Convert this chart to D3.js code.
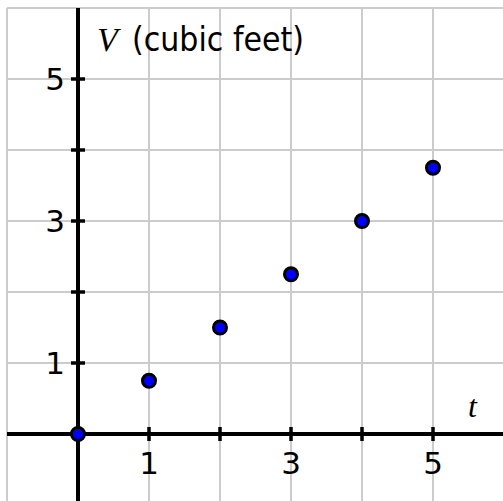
<!DOCTYPE html>
<html><head><meta charset="utf-8">
<script src="https://cdn.jsdelivr.net/npm/d3@7"></script>
<style>body{margin:0;background:#fff}svg{display:block}</style>
</head><body>
<script>
const tValues = [0, 1, 2, 3, 4, 5];
const vValues = [0, 0.75, 1.5, 2.25, 3, 3.75];
const xTickLabels = [1, 3, 5];
const yTickLabels = [1, 3, 5];
const gridX = [-1, 1, 2, 3, 4, 5, 6];
const gridY = [-1, 1, 2, 3, 4, 5, 6];
const ticks = [1, 2, 3, 4, 5];

const W = 503, H = 501;
const x = d3.scaleLinear().domain([0, 5]).range([78, 433]);
const y = d3.scaleLinear().domain([0, 5]).range([434, 79]);
const svg = d3.select("body").append("svg").attr("width", W).attr("height", H);

const gx0 = x(-1), gy0 = y(6);
svg.append("g").selectAll("line").data(gridX).join("line")
  .attr("x1", d => x(d)).attr("x2", d => x(d)).attr("y1", gy0).attr("y2", H)
  .attr("stroke", "#cccccc").attr("stroke-width", 2);
svg.append("g").selectAll("line").data(gridY).join("line")
  .attr("y1", d => y(d)).attr("y2", d => y(d)).attr("x1", gx0).attr("x2", W)
  .attr("stroke", "#cccccc").attr("stroke-width", 2);

// axes
svg.append("line").attr("x1", gx0).attr("x2", W).attr("y1", y(0)).attr("y2", y(0))
  .attr("stroke", "#000").attr("stroke-width", 4);
svg.append("line").attr("x1", x(0)).attr("x2", x(0)).attr("y1", gy0).attr("y2", H)
  .attr("stroke", "#000").attr("stroke-width", 4);

svg.append("g").selectAll("line").data(ticks).join("line")
  .attr("x1", d => x(d)).attr("x2", d => x(d)).attr("y1", y(0) - 7).attr("y2", y(0) + 7)
  .attr("stroke", "#000").attr("stroke-width", 3.5);
svg.append("g").selectAll("line").data(ticks).join("line")
  .attr("y1", d => y(d)).attr("y2", d => y(d)).attr("x1", x(0) - 7).attr("x2", x(0) + 7)
  .attr("stroke", "#000").attr("stroke-width", 3.5);

const font = "'DejaVu Sans', sans-serif";
svg.append("g").selectAll("text").data(xTickLabels).join("text")
  .attr("x", d => x(d)).attr("y", y(0) + 40).attr("text-anchor", "middle")
  .attr("font-family", font).attr("font-size", 31).text(d => d);
svg.append("g").selectAll("text").data(yTickLabels).join("text")
  .attr("x", x(0) - 13).attr("y", d => y(d) + 11).attr("text-anchor", "end")
  .attr("font-family", font).attr("font-size", 31).text(d => d);

svg.append("text").attr("x", 97).attr("y", 51).attr("font-size", 34)
  .attr("font-family", "'Liberation Serif', serif").attr("font-style", "italic").text("V");
svg.append("text").attr("x", 132).attr("y", 51).attr("font-size", 33)
  .attr("font-family", font).attr("textLength", 172).attr("lengthAdjust", "spacingAndGlyphs").text("(cubic feet)");

svg.append("text").attr("x", 468).attr("y", 417).attr("font-family", "'Liberation Serif', serif")
  .attr("font-style", "italic").attr("font-size", 32).text("t");

svg.append("g").selectAll("circle").data(tValues).join("circle")
  .attr("cx", d => x(d)).attr("cy", (d, i) => y(vValues[i])).attr("r", 6.5)
  .attr("fill", "#0000ff").attr("stroke", "#000").attr("stroke-width", 3);
</script>
</body></html>
